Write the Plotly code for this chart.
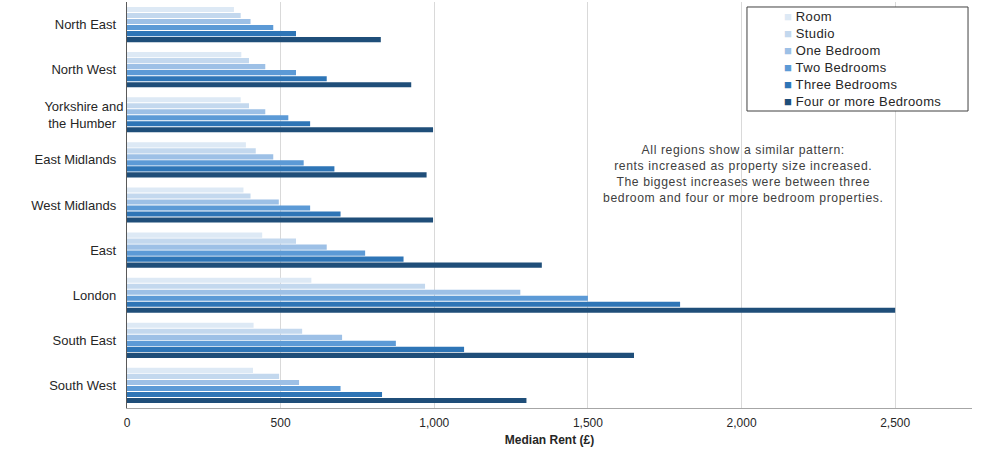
import plotly.graph_objects as go

regions = ["North East", "North West", "Yorkshire and<br>the Humber", "East Midlands",
           "West Midlands", "East", "London", "South East", "South West"]

room = [348, 372, 370, 387, 379, 440, 600, 412, 410]
studio = [370, 397, 397, 419, 402, 550, 970, 570, 495]
one_bed = [402, 450, 450, 476, 494, 650, 1280, 700, 560]
two_bed = [476, 550, 525, 575, 596, 775, 1500, 875, 695]
three_bed = [550, 650, 596, 675, 695, 900, 1800, 1097, 830]
four_bed = [826, 925, 996, 975, 996, 1350, 2500, 1650, 1300]

series_names = ["Room", "Studio", "One Bedroom", "Two Bedrooms", "Three Bedrooms", "Four or more Bedrooms"]
series_values = [room, studio, one_bed, two_bed, three_bed, four_bed]
colors = ["#dde9f5", "#c3d8ee", "#9dc0e6", "#5c9ad6", "#2e75b6", "#1f4e79"]

x_ticks = [0, 500, 1000, 1500, 2000, 2500]
x_tick_labels = ["0", "500", "1,000", "1,500", "2,000", "2,500"]

note_lines = ["All regions show a similar pattern:",
              "rents increased as property size increased.",
              "The biggest increases were between three",
              "bedroom and four or more bedroom properties."]

fig = go.Figure()
for name, vals, col in zip(series_names, series_values, colors):
    fig.add_trace(go.Bar(y=regions, x=vals, name=name, orientation="h",
                         marker=dict(color=col, line=dict(width=0)), showlegend=False))

font_main = "Liberation Sans, Arial, sans-serif"
font_narrow = "Liberation Sans Narrow, Arial Narrow, Liberation Sans, sans-serif"

legend_text = "<br>".join(
    f"<span style='color:{c}'>■</span><span style='letter-spacing:0.35px'> {n}</span>"
    for n, c in zip(series_names, colors))
note_text = "<br>".join(f"<span style='letter-spacing:0.6px'>{l}</span>" for l in note_lines)

fig.update_layout(
    width=982, height=451,
    margin=dict(l=127, r=10, t=2, b=43),
    paper_bgcolor="white", plot_bgcolor="white",
    barmode="group", bargap=0.2, bargroupgap=0.15,
    font=dict(family=font_main, size=12, color="#262626"),
    showlegend=False,
    xaxis=dict(range=[0, 2750], tickvals=x_ticks, ticktext=x_tick_labels,
               showgrid=True, gridcolor="#d9d9d9", gridwidth=1,
               zeroline=False, showline=True, linecolor="#a6a6a6", linewidth=1,
               ticks="", ticklabelstandoff=4,
               tickfont=dict(family=font_narrow, size=12, color="#262626"),
               title=dict(text="<b>Median Rent (£)</b>",
                          font=dict(family=font_narrow, size=12, color="#262626"), standoff=6),
               fixedrange=True),
    yaxis=dict(autorange="reversed", showgrid=False, zeroline=False,
               showline=True, linecolor="#595959", linewidth=1, ticks="",
               ticksuffix="  ",
               tickfont=dict(family=font_main, size=13, color="#262626"),
               fixedrange=True),
    shapes=[dict(type="rect", xref="paper", yref="paper",
                 x0=0.7337, x1=0.9953, y0=0.7315, y1=0.9877,
                 line=dict(color="#404040", width=1), fillcolor="white", layer="above")],
    annotations=[
        dict(x=0.7751, y=0.8596, xref="paper", yref="paper", xanchor="left", yanchor="middle",
             showarrow=False, align="left", text=legend_text,
             font=dict(family=font_main, size=13, color="#262626")),
        dict(x=0.729, y=0.576, xref="paper", yref="paper", xanchor="center", yanchor="middle",
             showarrow=False, align="center", text=note_text,
             font=dict(family=font_main, size=12.2, color="#404040")),
    ],
)

fig.write_html("out.html")
